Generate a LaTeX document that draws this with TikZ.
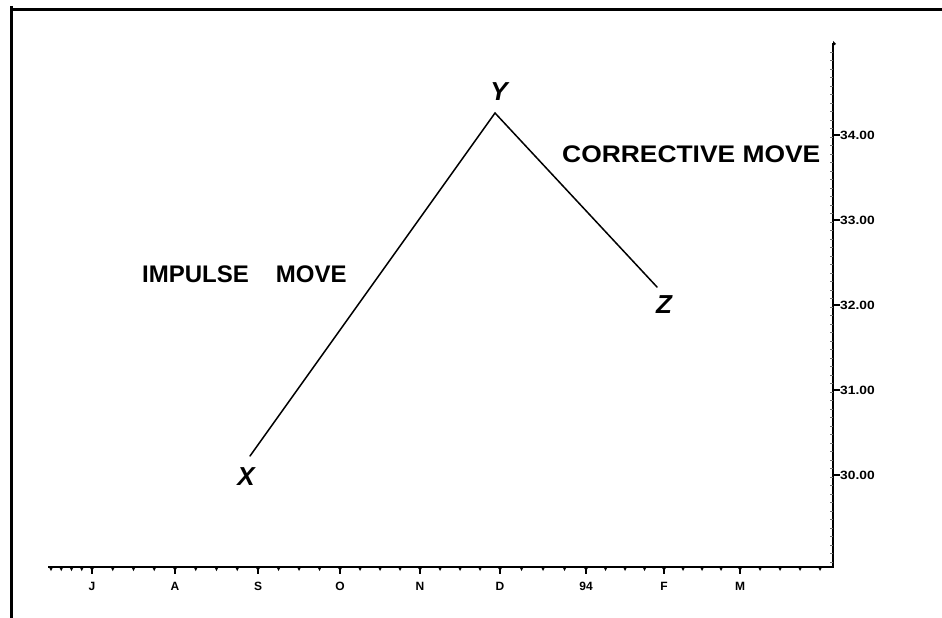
\documentclass[tikz,border=0pt]{standalone}
\usepackage{fontspec}
\setmainfont{Liberation Sans}
\begin{document}
\begin{tikzpicture}[x=1pt,y=-1pt,
  frameline/.style={line width=3pt},
  axisline/.style={line width=2pt},
  moveline/.style={line width=1.5pt, line cap=round},
  majortick/.style={line width=1.6pt},
  ytickminor/.style={line width=0.5pt, black!55},
  biglabel/.style={font=\bfseries\fontsize{24}{28}\selectfont, inner sep=0pt, anchor=base west},
  ptlabel/.style={font=\bfseries\itshape\fontsize{26}{30}\selectfont, inner sep=0pt, anchor=base},
  ticklabel/.style={font=\bfseries\fontsize{12}{14}\selectfont, inner sep=0pt}]
\useasboundingbox (0,0) rectangle (942,618);

% frame
\coordinate (fl1) at (11.3,6);
\coordinate (fl2) at (11.3,618);
\coordinate (ft1) at (10,9.5);
\coordinate (ft2) at (942,9.5);
\draw[frameline] (fl1) -- (fl2);
\draw[frameline] (ft1) -- (ft2);

% axes
\coordinate (xleft) at (48,567);
\coordinate (orig) at (833,567);
\coordinate (ytop) at (833,43);
\draw[axisline] (xleft) -- (orig) -- (ytop);
\fill ([yshift=2pt]ytop) -- ++(3,3) -- ++(-3,2) -- cycle;

% y axis minor ticks
\foreach \i in {0,...,60}
  \draw[ytickminor] (833,{52+8.5*\i}) -- ++(-3,0);

% y axis major ticks and labels
\foreach \y/\t in {135/34.00,220/33.00,305/32.00,390/31.00,475/30.00}{
  \draw[majortick] (833,\y) -- (840,\y);
  \node[ticklabel,anchor=west] (yl\y) at (840,\y) {\scalebox{1.15}[1]{\t}};
}

% x axis minor ticks (small downward wedges)
\foreach \a/\b in {51/92,92/175,175/258,258/340,340/420,420/500,500/586,586/664,664/740}
  \foreach \f in {0.25,0.5,0.75}
    \fill ({\a+(\b-\a)*\f-2},567) -- ++(4,0) -- ++(-2,4) -- cycle;
\foreach \x in {51,760,780,800,820}
  \fill ({\x-2},567) -- ++(4,0) -- ++(-2,4) -- cycle;

% x axis major ticks and labels
\foreach \x/\t [count=\i] in {92/J,175/A,258/S,340/O,420/N,500/D,586/94,664/F,740/M}{
  \fill ({\x-2.5},567) -- ++(5,0) -- ++(-2.5,4) -- cycle;
  \draw[majortick] (\x,567) -- ++(0,7);
  \node[ticklabel,anchor=base] (m\i) at (\x,590) {\t};
}

% the moves
\coordinate (pX) at (250,456);
\coordinate (pY) at (495,113);
\coordinate (pZ) at (657,287);
\draw[moveline] (pX) -- (pY) -- (pZ);

% point labels
\node[ptlabel] (lX) at (246,485) {X};
\node[ptlabel] (lY) at (499,100) {Y};
\node[ptlabel] (lZ) at (664,313) {Z};

% texts
\node[biglabel] (impulse) at (142,282) {IMPULSE\hspace{27pt}MOVE};
\node[biglabel] (corrective) at (562,162) {\scalebox{1.1}[1]{CORRECTIVE MOVE}};
\end{tikzpicture}
\end{document}
